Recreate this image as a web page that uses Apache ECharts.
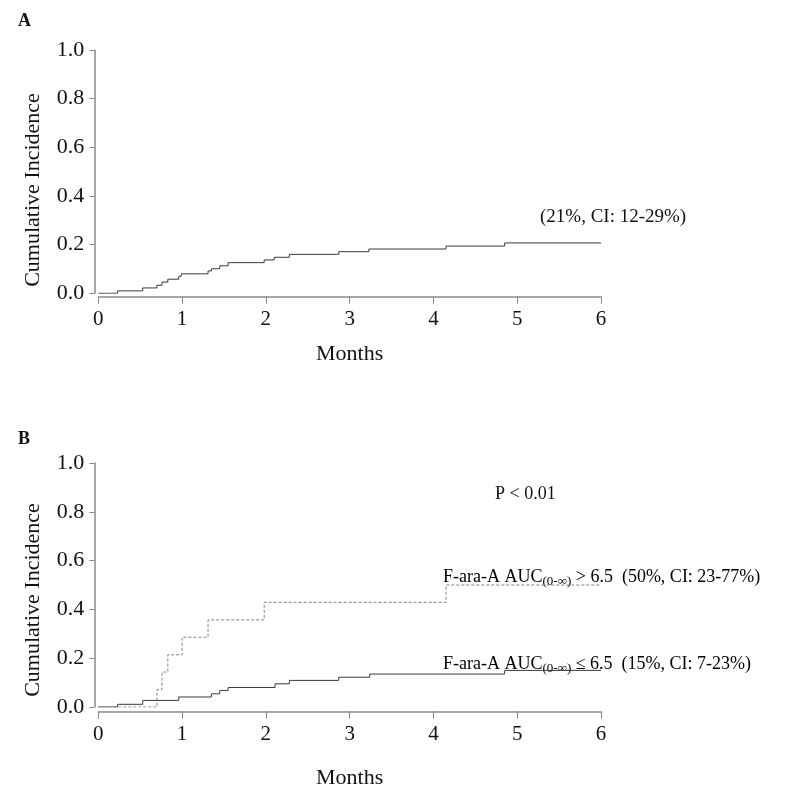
<!DOCTYPE html>
<html><head><meta charset="utf-8">
<script src="https://cdn.jsdelivr.net/npm/echarts@6/dist/echarts.min.js"></script>
<style>html,body{margin:0;padding:0;background:#fff}#c{width:800px;height:802px}</style>
</head><body><div id="c"></div>
<script>
// Panel A: overall cumulative incidence (months, incidence)
const timesA = [0, 0.23, 0.53, 0.70, 0.76, 0.83, 0.96, 0.99, 1.31, 1.35, 1.45, 1.55, 1.98, 2.10, 2.28, 2.87, 3.23, 4.15, 4.85, 6.0];
const cumA   = [0, 0.010, 0.022, 0.033, 0.046, 0.058, 0.070, 0.080, 0.092, 0.101, 0.113, 0.126, 0.137, 0.148, 0.160, 0.171, 0.182, 0.194, 0.207, 0.207];
// Panel B: AUC <= 6.5 (solid)
const timesLow = [0, 0.23, 0.53, 0.96, 1.35, 1.45, 1.55, 2.11, 2.28, 2.87, 3.24, 4.85, 6.0];
const cumLow   = [0, 0.011, 0.027, 0.041, 0.054, 0.068, 0.080, 0.095, 0.109, 0.122, 0.135, 0.150, 0.150];
// Panel B: AUC > 6.5 (dashed)
const timesHigh = [0, 0.70, 0.76, 0.83, 1.00, 1.31, 1.98, 4.15, 6.0];
const cumHigh   = [0, 0.071, 0.143, 0.214, 0.286, 0.357, 0.429, 0.500, 0.500];
// Axis ticks
const xMin = 0, xMax = 6, xStep = 1;
const yMin = 0, yMax = 1, yStep = 0.2;
// Texts
const panelLabels = ['A', 'B'];
const yTitle = 'Cumulative Incidence';
const xTitle = 'Months';
const annotA = '(21%, CI: 12-29%)';
const pText = 'P < 0.01';
const highLabel = ['F-ara-A AUC', '(0-∞)', ' > 6.5  (50%, CI: 23-77%)'];
const lowLabel  = ['F-ara-A AUC', '(0-∞)', ' ≤ 6.5  (15%, CI: 7-23%)'];

const FONT = 'Liberation Serif';
const zip = (t, v) => t.map((x, i) => [x, v[i]]);
const axisColor = '#8a8a8a';

function xAx(gi, offset, gap) {
  return {
    type: 'value', gridIndex: gi, min: xMin, max: xMax, interval: xStep, offset: offset,
    name: xTitle, nameLocation: 'middle', nameGap: gap,
    nameTextStyle: {fontFamily: FONT, fontSize: 22, color: '#111'},
    axisLine: {show: true, onZero: false, lineStyle: {color: axisColor, width: 1.5}},
    axisTick: {show: true, length: 7, lineStyle: {color: axisColor}},
    axisLabel: {fontFamily: FONT, fontSize: 21, color: '#111', margin: 12},
    splitLine: {show: false}
  };
}
function yAx(gi) {
  return {
    type: 'value', gridIndex: gi, min: yMin, max: yMax, interval: yStep, offset: 4,
    axisLine: {show: true, onZero: false, lineStyle: {color: axisColor, width: 1.5}},
    axisTick: {show: true, length: 5, lineStyle: {color: axisColor}},
    axisLabel: {fontFamily: FONT, fontSize: 22, color: '#111', margin: 10, formatter: v => v.toFixed(1)},
    splitLine: {show: false}
  };
}
const rich = {
  a: {fontFamily: FONT, fontSize: 18, color: '#111'},
  s: {fontFamily: FONT, fontSize: 13, color: '#111', padding: [10, 0, 0, 0]}
};
function labelText(parts) { return '{a|' + parts[0] + '}{s|' + parts[1] + '}{a|' + parts[2] + '}'; }
function yTitleText(cy) {
  return {type: 'text', x: 33, y: cy, rotation: Math.PI / 2,
    style: {text: yTitle, font: '22px "Liberation Serif"', fill: '#111', textAlign: 'center', textVerticalAlign: 'middle'}};
}

const chart = echarts.init(document.getElementById('c'), null, {renderer: 'canvas'});
chart.setOption({
  backgroundColor: '#fff',
  animation: false,
  grid: [
    {left: 98.3, width: 502.7, top: 50, height: 243.3},
    {left: 98.3, width: 502.7, top: 463, height: 244}
  ],
  xAxis: [xAx(0, 3.5, 46), xAx(1, 4.7, 56)],
  yAxis: [yAx(0), yAx(1)],
  series: [
    {type: 'line', xAxisIndex: 0, yAxisIndex: 0, step: 'end', symbol: 'none',
     lineStyle: {color: '#3a3a3a', width: 1}, data: zip(timesA, cumA)},
    {type: 'line', xAxisIndex: 1, yAxisIndex: 1, step: 'end', symbol: 'none',
     lineStyle: {color: '#3a3a3a', width: 1}, data: zip(timesLow, cumLow)},
    {type: 'line', xAxisIndex: 1, yAxisIndex: 1, step: 'end', symbol: 'none',
     lineStyle: {color: '#808080', width: 1, type: [3, 2]}, data: zip(timesHigh, cumHigh)}
  ],
  graphic: [
    {type: 'text', left: 18, top: 12, style: {text: panelLabels[0], font: 'bold 18px "Liberation Serif"', fill: '#111'}},
    {type: 'text', left: 18, top: 430, style: {text: panelLabels[1], font: 'bold 18px "Liberation Serif"', fill: '#111'}},
    yTitleText(190),
    yTitleText(600),
    {type: 'text', left: 540, top: 208, style: {text: annotA, font: '19px "Liberation Serif"', fill: '#111'}},
    {type: 'text', left: 495, top: 485, style: {text: pText, font: '18px "Liberation Serif"', fill: '#111'}},
    {type: 'text', left: 443, top: 568, style: {text: labelText(highLabel), rich: rich}},
    {type: 'text', left: 443, top: 655, style: {text: labelText(lowLabel), rich: rich}}
  ]
});
</script>
</body></html>
